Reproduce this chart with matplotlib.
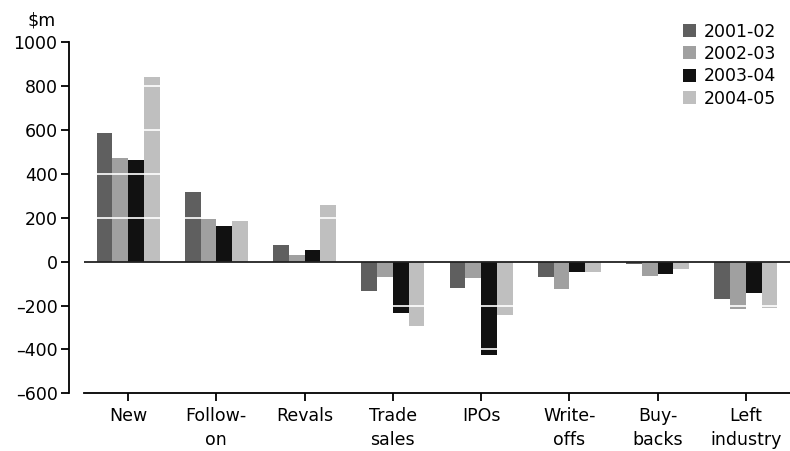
import numpy as np
import matplotlib
matplotlib.use("Agg")
import matplotlib.pyplot as plt

plt.rcParams["font.family"] = "DejaVu Sans"
plt.rcParams.update({'font.size': 12.5})

# Categories and series values ($m)
categories = ["New", "Follow-\non", "Revals", "Trade\nsales", "IPOs",
              "Write-\noffs", "Buy-\nbacks", "Left\nindustry"]
years = ["2001-02", "2002-03", "2003-04", "2004-05"]
v_2001_02 = [585, 318, 76, -132, -119, -68, -9, -169]
v_2002_03 = [472, 195, 30, -68, -73, -123, -64, -214]
v_2003_04 = [465, 163, 53, -236, -424, -46, -55, -141]
v_2004_05 = [842, 186, 259, -292, -242, -46, -32, -210]
series = [v_2001_02, v_2002_03, v_2003_04, v_2004_05]
colors = ["#5f5f5f", "#a0a0a0", "#111111", "#bfbfbf"]

fig = plt.figure(figsize=(7.9, 4.51), dpi=100)
ax = fig.add_axes([0.1063, 0.128, 0.8937, 0.778])

x = np.arange(len(categories))
width = 0.178
for i, vals in enumerate(series):
    ax.bar(x + (i - 1.5) * width, vals, width, color=colors[i], label=years[i], zorder=2)

# white gridlines over the bars
for yv in [-400, -200, 200, 400, 600, 800]:
    ax.axhline(yv, color="white", linewidth=1.2, zorder=3)
ax.axhline(0, color="#222222", linewidth=1.3, zorder=4)

ax.set_xlim(-0.5, 7.5)
ax.set_ylim(-600, 1000)
ax.set_yticks(range(-600, 1001, 200))
ax.set_yticklabels([f"{t}".replace("-", "\u2013") for t in range(-600, 1001, 200)])
ax.set_xticks(x)
ax.set_xticklabels(categories, linespacing=1.45)

ax.spines['top'].set_visible(False)
ax.spines['right'].set_visible(False)
ax.spines['left'].set_position(('outward', 11))
ax.spines['left'].set_linewidth(1.3)
ax.spines['bottom'].set_linewidth(1.3)
ax.tick_params(axis='y', length=6, width=1.3, pad=2)
ax.tick_params(axis='x', length=6, width=1.3, pad=4)

fig.text(0.035, 0.955, "$m", fontsize=12.5, va="center")

ax.legend(loc="upper left", bbox_to_anchor=(0.865, 0.95), bbox_transform=fig.transFigure,
          frameon=False, handlelength=0.75, handleheight=0.75, handletextpad=0.4,
          labelspacing=0.25, borderaxespad=0, borderpad=0)

fig.savefig("out.png", dpi=100)
